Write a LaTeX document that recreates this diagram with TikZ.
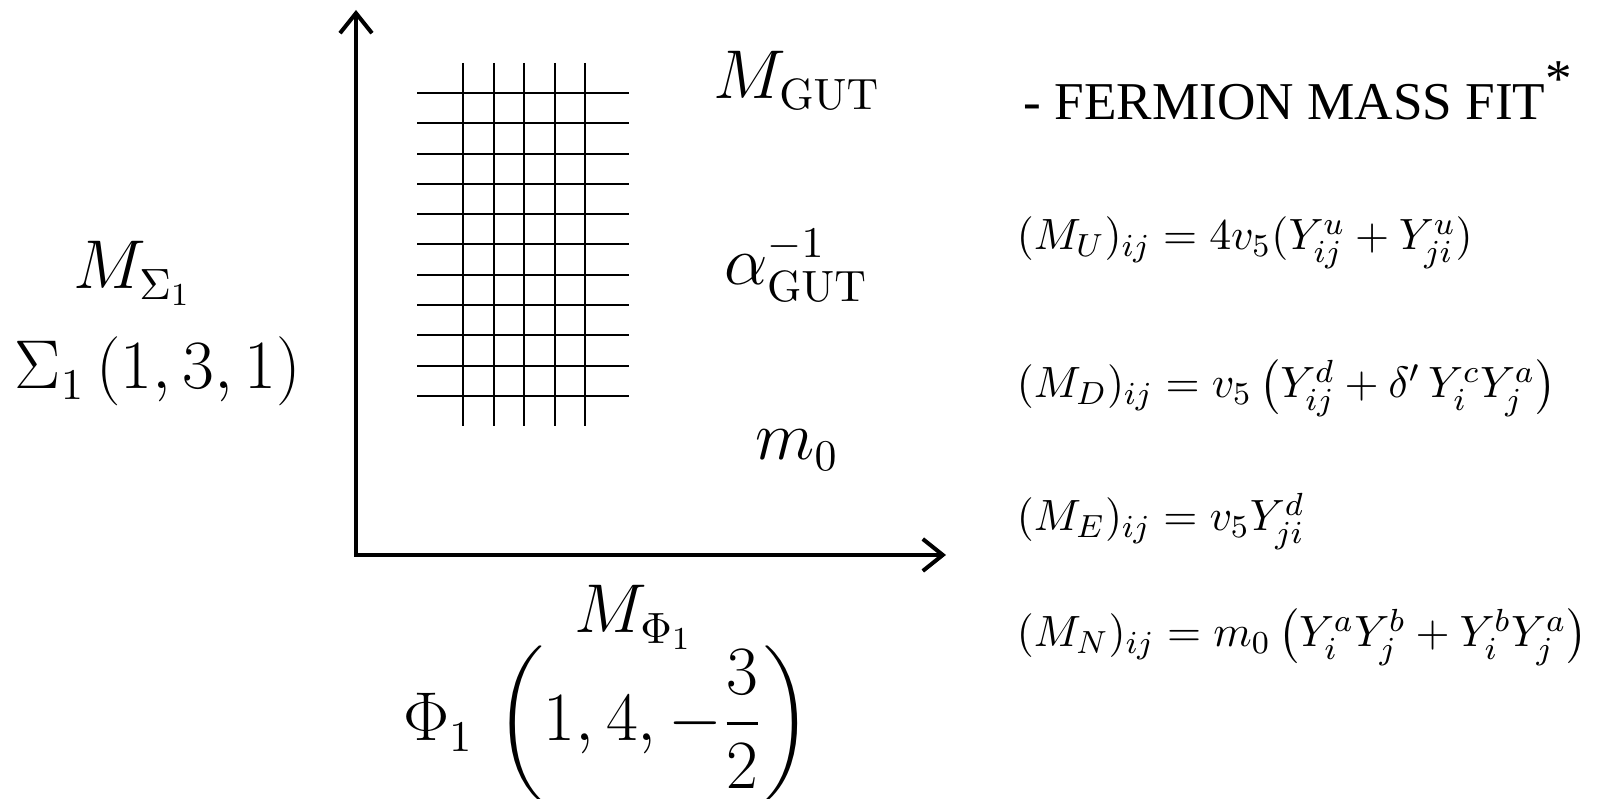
\documentclass[tikz,border=0pt]{standalone}
\usepackage{amsmath}
\usepackage{amssymb}
\usepackage[no-math]{fontspec}
\newfontfamily\slidefont{Liberation Serif}
\usetikzlibrary{arrows.meta}
\tikzset{axis/.style = {line width = 1pt, line cap = round, {Straight Barb[length = 5pt, width = 8pt]}-{Straight Barb[length = 5pt, width = 8pt]}}}
\tikzset{gridline/.style = {line width = 0.5pt}}
\tikzset{biglabel/.style = {anchor = base, inner sep = 0pt, font = \fontsize{16.2}{20}\selectfont}}
\tikzset{formula/.style = {anchor = base west, inner sep = 0pt, font = \fontsize{11.45}{14}\selectfont}}

\begin{document}
\begin{tikzpicture}[x = 0.25pt, y = -0.25pt]
	\useasboundingbox (0, 0) rectangle (1609, 799);

	% axes
	\coordinate (o) at (356, 555);
	\coordinate (ytip) at (356, 10);
	\coordinate (xtip) at (946, 555);
	\draw[axis] (ytip) -- (o) -- (xtip);

	% lattice
	\foreach \i in {0, ..., 4}
		\draw[gridline] (463 + 30.5*\i, 63) -- (463 + 30.5*\i, 426);
	\foreach \j in {0, ..., 10}
		\draw[gridline] (417, 93 + 30.3*\j) -- (629, 93 + 30.3*\j);

	\node[biglabel] (mgut) at (797, 99) {$M_{\mathrm{GUT}}$};
	\node[biglabel] (agut) at (796, 285) {$\alpha_{\mathrm{GUT}}^{-1}$};
	\node[biglabel] (mzero) at (797, 460) {$m_0$};

	\node[biglabel] (msig) at (133, 289) {$M_{\Sigma_1}$};
	\node[biglabel] (sig) at (158, 389) {$\Sigma_1\,(1,3,1)$};
	\node[biglabel] (mphi) at (634, 633) {$M_{\Phi_1}$};
	\node[biglabel] (phi) at (607, 741) {$\Phi_1\,\left(1,4,-\dfrac{3}{2}\right)$};

	\node[anchor = base west, inner sep = 0pt, font = \slidefont\fontsize{13.3}{16}\selectfont] (fit) at (1023, 120) {- FERMION MASS FIT\raisebox{0.45em}{*}};

	\node[formula] (mu) at (1016, 250) {$(M_U)_{ij} = 4v_5(Y^u_{ij} + Y^u_{ji})$};
	\node[formula] (md) at (1016, 398) {$(M_D)_{ij} = v_5\left(Y^d_{ij} + \delta'\,Y^c_iY^a_j\right)$};
	\node[formula] (me) at (1016, 531) {$(M_E)_{ij} = v_5Y^d_{ji}$};
	\node[formula] (mn) at (1016, 647) {$(M_N)_{ij} = m_0\left(Y^a_iY^b_j + Y^b_iY^a_j\right)$};
\end{tikzpicture}
\end{document}
